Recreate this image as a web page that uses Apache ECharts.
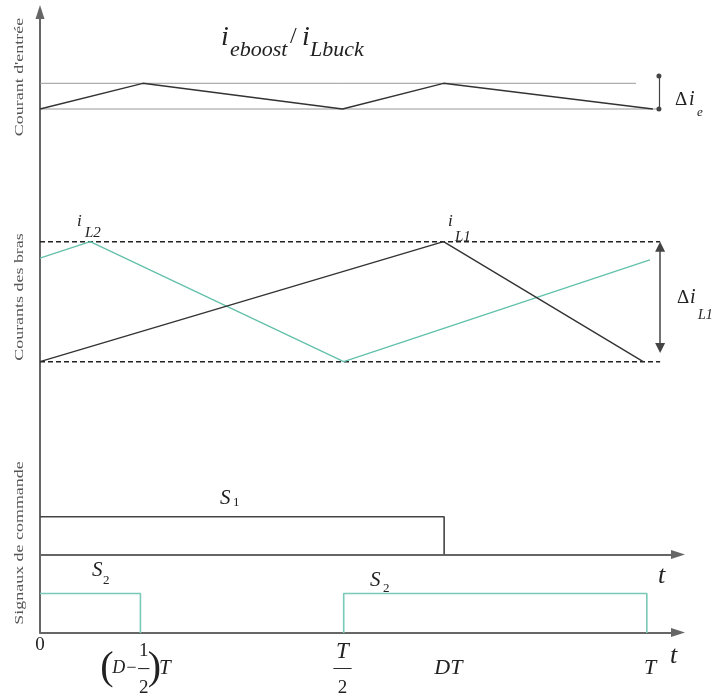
<!DOCTYPE html>
<html><head><meta charset="utf-8">
<script src="https://cdn.jsdelivr.net/npm/echarts@6/dist/echarts.min.js"></script>
<style>html,body{margin:0;padding:0;background:#fff}#c{width:715px;height:698px}</style>
</head><body><div id="c"></div>
<script>
// ---- data (time in units of T) ----
const inputT = [0, 0.17, 0.5, 0.667, 1.013];
const inputV = [0, 1, 0, 1, 0];
const inputHighT = [0, 0.985];
const inputLowT = [0, 1.02];
const iL1T = [0, 0.667, 0.997];
const iL1V = [0, 1, 0];
const iL2T = [0, 0.083, 0.502, 1.008];
const iL2V = [0.864, 1, 0, 0.848];
const boundT = [0, 1.025];
const s1T = [0, 0.668, 0.668];
const s1V = [1, 1, 0];
const s2aT = [0, 0.166, 0.166];
const s2aV = [1, 1, 0];
const s2bT = [0.502, 0.502, 1.003, 1.003];
const s2bV = [0, 1, 1, 0];
const deltaIeT = 1.023;
const deltaIeRange = [0, 1.284];
const deltaILT = 1.025;
const deltaILRange = [0.114, 0.958];
const tickValues = [0, 1/6, 0.5, 2/3, 1];
const tickLabels = ['0', '(D−1/2)T', 'T/2', 'DT', 'T'];
const panelNames = ["Courant d'entrée", 'Courants des bras', 'Signaux de commande'];

const F = 'Liberation Serif';
const XMAX = 638 / 605;
const zip = (a, b) => a.map((x, i) => [x, b[i]]);

const richFor = {
  '0': '{z|0}',
  '(D−1/2)T': '{s36| }{fn1|1}{s30| }\n{lp|(}{dm|D−}{fb|–}{rp|)}{tt|T}{s9| }\n{s36| }{fn3|2}{s30| }',
  'T/2': '{tn|T}\n{tb|—}\n{fn3|2}',
  'DT': '{e1| }\n{pad| }{m2|DT}\n{e3| }',
  'T': '{e1| }\n{pad| }{m2|T}\n{e3| }'
};
const base = {fontFamily: F, color: '#222'};
const axisRich = {
  z: Object.assign({fontSize: 19, lineHeight: 20}, base),
  s36: {width: 36, lineHeight: 32}, s30: {width: 30, lineHeight: 32}, s9: {width: 9, lineHeight: 2},
  fn1: Object.assign({fontSize: 19, lineHeight: 32, width: 14}, base),
  fn3: Object.assign({fontSize: 19, lineHeight: 38, width: 14}, base),
  lp: Object.assign({fontSize: 40, lineHeight: 2, width: 12}, base),
  rp: Object.assign({fontSize: 40, lineHeight: 2, width: 7}, base),
  dm: Object.assign({fontSize: 18, fontStyle: 'italic', lineHeight: 2, width: 24}, base),
  fb: Object.assign({fontSize: 22, lineHeight: 2, width: 14}, base),
  tt: Object.assign({fontSize: 21, fontStyle: 'italic', lineHeight: 2, width: 14}, base),
  tn: Object.assign({fontSize: 23, fontStyle: 'italic', lineHeight: 32}, base),
  tb: Object.assign({fontSize: 18, lineHeight: 2}, base),
  e1: {lineHeight: 32}, e3: {lineHeight: 38},
  pad: {width: 10, lineHeight: 2},
  m2: Object.assign({fontSize: 22, fontStyle: 'italic', lineHeight: 2}, base)
};

const grids = [
  {left: 40, top: 12, width: 638, height: 621},
  {left: 40, top: 75.6, width: 638, height: 33.4},
  {left: 40, top: 241.7, width: 638, height: 120},
  {left: 40, top: 516.7, width: 638, height: 37.8},
  {left: 40, top: 593.5, width: 638, height: 39.5}
];
const yMax = [1, 1.3, 1, 1, 1];
const axisColor = '#666';

const xAxes = grids.map((g, i) => ({
  type: 'value', gridIndex: i, min: 0, max: XMAX,
  show: i === 0 || i === 3,
  axisLine: {show: true, onZero: false, symbol: ['none', 'triangle'], symbolSize: [9, 14],
    lineStyle: {color: axisColor, width: 2}},
  axisTick: {show: false}, splitLine: {show: false},
  axisLabel: i === 0 ? {
    show: true, margin: 3, customValues: tickValues,
    formatter: function (v) {
      let k = 0, best = 1e9;
      tickValues.forEach((t, j) => { if (Math.abs(t - v) < best) { best = Math.abs(t - v); k = j; } });
      return richFor[tickLabels[k]];
    },
    rich: axisRich
  } : {show: false}
}));
const yAxes = grids.map((g, i) => ({
  type: 'value', gridIndex: i, min: 0, max: yMax[i],
  show: i === 0,
  axisLine: {show: true, onZero: false, symbol: ['none', 'triangle'], symbolSize: [9, 14],
    lineStyle: {color: axisColor, width: 2}},
  axisTick: {show: false}, splitLine: {show: false}, axisLabel: {show: false}
}));

function ls(gi, data, color, width, extra) {
  return Object.assign({
    type: 'line', xAxisIndex: gi, yAxisIndex: gi, data: data, symbol: 'none', showSymbol: false,
    silent: true, animation: false, clip: false, lineStyle: {color: color, width: width}
  }, extra || {});
}

const series = [
  ls(1, zip(inputHighT, [1, 1]), '#999', 1),
  ls(1, zip(inputLowT, [0, 0]), '#999', 1),
  ls(1, zip(inputT, inputV), '#333', 1.4, {
    markLine: {silent: true, animation: false, symbol: ['circle', 'circle'], symbolSize: 5,
      label: {show: false}, lineStyle: {color: '#444', width: 1.2, type: 'solid'},
      emphasis: {disabled: true},
      data: [[{coord: [deltaIeT, deltaIeRange[0]]}, {coord: [deltaIeT, deltaIeRange[1]]}]]}
  }),
  ls(2, zip(boundT, [1, 1]), '#222', 1.4, {lineStyle: {color: '#222', width: 1.4, type: [5, 3]}}),
  ls(2, zip(boundT, [0, 0]), '#222', 1.4, {lineStyle: {color: '#222', width: 1.4, type: [5, 3]}}),
  ls(2, zip(iL2T, iL2V), '#62c0aa', 1.3),
  ls(2, zip(iL1T, iL1V), '#333', 1.4, {
    markLine: {silent: true, animation: false, symbol: ['triangle', 'triangle'], symbolSize: 10,
      label: {show: false}, lineStyle: {color: '#444', width: 1.5, type: 'solid'},
      emphasis: {disabled: true},
      data: [[{coord: [deltaILT, deltaILRange[0]]}, {coord: [deltaILT, deltaILRange[1]]}]]}
  }),
  ls(3, zip(s1T, s1V), '#444', 1.6),
  ls(4, zip(s2aT, s2aV), '#79c9b8', 1.6),
  ls(4, zip(s2bT, s2bV), '#79c9b8', 1.6)
];

function tx(x, y, text, size, italic, extra) {
  return Object.assign({
    type: 'text', x: x, y: y, silent: true, z: 100,
    style: {text: text, fill: '#222', fontFamily: F, fontSize: size,
      fontStyle: italic ? 'italic' : 'normal',
      align: 'left', verticalAlign: 'middle', textAlign: 'left', textVerticalAlign: 'middle'}
  }, extra || {});
}
function rot(cy, text) {
  const e = tx(20, cy, text, 13, false, {rotation: Math.PI / 2, scaleX: 1.38});
  e.style.align = 'center'; e.style.textAlign = 'center'; e.style.fill = '#555';
  return e;
}

const graphic = [
  tx(221, 37.5, 'i', 28, true), tx(230, 50.5, 'eboost', 22, true),
  tx(290, 37, '/', 24, false), tx(302, 37.5, 'i', 28, true), tx(310, 50.5, 'Lbuck', 22, true),
  tx(675, 100.5, 'Δ', 19, false), tx(689, 100, 'i', 20, true), tx(697, 112.6, 'e', 13, true),
  tx(677, 298.5, 'Δ', 19, false), tx(690, 298, 'i', 20, true), tx(698, 315, 'L1', 14, true),
  tx(77, 222, 'i', 17, true), tx(85, 233, 'L2', 15, true),
  tx(448, 222, 'i', 17, true), tx(455, 237, 'L1', 15, true),
  tx(220, 498, 'S', 21, true), tx(233, 503, '1', 13, false),
  tx(92, 570, 'S', 21, true), tx(103, 580.6, '2', 13, false),
  tx(370, 580, 'S', 21, true), tx(383, 588.6, '2', 13, false),
  tx(658, 576, 't', 26, true), tx(670, 656, 't', 26, true),
  rot(77, panelNames[0]), rot(297, panelNames[1]), rot(543, panelNames[2])
];

const chart = echarts.init(document.getElementById('c'), null, {renderer: 'canvas'});
chart.setOption({
  animation: false, backgroundColor: '#fff',
  grid: grids, xAxis: xAxes, yAxis: yAxes, series: series, graphic: graphic
});
</script></body></html>
